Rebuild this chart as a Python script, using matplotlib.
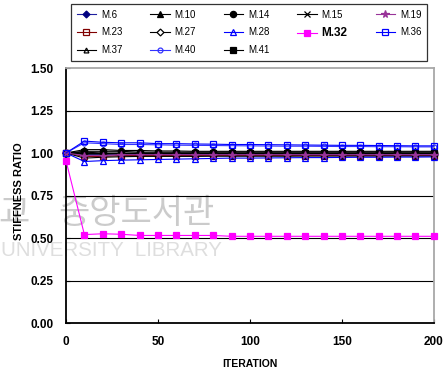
import matplotlib
matplotlib.use("Agg")
import matplotlib.pyplot as plt

plt.rcParams["font.family"] = ["Liberation Sans", "DejaVu Sans"]

# iteration steps
iterations = [0, 10, 20, 30, 40, 50, 60, 70, 80, 90, 100,
              110, 120, 130, 140, 150, 160, 170, 180, 190, 200]

m6 = [1.0, 0.99, 0.99, 0.99, 0.99, 0.99, 0.99, 0.99, 0.99, 0.99, 0.99,
      0.99, 0.99, 0.99, 0.99, 0.99, 0.99, 0.99, 0.99, 0.99, 0.99]
m10 = [1.0, 1.02, 1.02, 1.015, 1.015, 1.012, 1.012, 1.01, 1.01, 1.01, 1.01,
       1.01, 1.01, 1.01, 1.01, 1.01, 1.01, 1.01, 1.01, 1.01, 1.01]
m14 = [1.0, 1.01, 1.01, 1.01, 1.005, 1.005, 1.005, 1.005, 1.005, 1.005, 1.005,
       1.005, 1.005, 1.005, 1.005, 1.005, 1.005, 1.005, 1.005, 1.005, 1.005]
m15 = [1.0, 0.995, 0.995, 0.995, 0.995, 0.995, 0.995, 0.995, 0.995, 0.995, 0.995,
       0.995, 0.995, 0.995, 0.995, 0.995, 0.995, 0.995, 0.995, 0.995, 0.995]
m19 = [1.0, 0.985, 0.985, 0.99, 0.99, 0.99, 0.99, 0.99, 0.99, 0.99, 0.99,
       0.99, 0.99, 0.99, 0.99, 0.99, 0.99, 0.99, 0.99, 0.99, 0.99]
m23 = [1.0, 0.98, 0.98, 0.985, 0.985, 0.985, 0.985, 0.985, 0.985, 0.985, 0.985,
       0.985, 0.985, 0.985, 0.985, 0.985, 0.985, 0.985, 0.985, 0.985, 0.985]
m27 = [1.0, 1.0, 1.0, 1.0, 1.0, 1.0, 1.0, 1.0, 1.0, 1.0, 1.0,
       1.0, 1.0, 1.0, 1.0, 1.0, 1.0, 1.0, 1.0, 1.0, 1.0]
m28 = [1.0, 0.95, 0.955, 0.958, 0.96, 0.962, 0.964, 0.966, 0.968, 0.97, 0.97,
       0.971, 0.972, 0.973, 0.973, 0.974, 0.975, 0.975, 0.976, 0.976, 0.977]
m32 = [0.955, 0.52, 0.525, 0.522, 0.515, 0.515, 0.515, 0.515, 0.515, 0.51, 0.51,
       0.51, 0.51, 0.51, 0.51, 0.51, 0.51, 0.51, 0.51, 0.51, 0.51]
m36 = [1.0, 1.07, 1.063, 1.06, 1.06, 1.055, 1.055, 1.053, 1.052, 1.05, 1.05,
       1.049, 1.048, 1.047, 1.046, 1.045, 1.045, 1.044, 1.043, 1.042, 1.042]
m37 = [1.0, 0.97, 0.975, 0.978, 0.98, 0.98, 0.98, 0.98, 0.981, 0.981, 0.981,
       0.981, 0.981, 0.982, 0.982, 0.982, 0.982, 0.982, 0.982, 0.982, 0.982]
m40 = [1.0, 1.06, 1.055, 1.05, 1.05, 1.048, 1.046, 1.045, 1.044, 1.043, 1.042,
       1.041, 1.04, 1.04, 1.039, 1.038, 1.038, 1.037, 1.037, 1.036, 1.036]
m41 = [1.0, 1.005, 1.0, 1.0, 1.0, 1.0, 1.0, 1.0, 1.0, 1.0, 1.0,
       1.0, 1.0, 1.0, 1.0, 1.0, 1.0, 1.0, 1.0, 1.0, 1.0]

# name, values, line colour, marker, marker face, marker size
# (ordered so the 5-column legend reads row by row)
series = [
    ("M.6", m6, "#2020a0", "D", "#000080", 3.5),
    ("M.23", m23, "#800000", "s", "none", 4.5),
    ("M.37", m37, "black", "^", "none", 3.5),
    ("M.10", m10, "black", "^", "black", 5),
    ("M.27", m27, "black", "D", "white", 3.5),
    ("M.40", m40, "#3333ff", "o", "none", 3.5),
    ("M.14", m14, "black", "o", "black", 4.5),
    ("M.28", m28, "#0000ff", "^", "none", 4.5),
    ("M.41", m41, "black", "s", "black", 4),
    ("M.15", m15, "black", "x", "black", 4.5),
    ("M.32", m32, "#ff00ff", "s", "#ff00ff", 5),
    ("M.19", m19, "#993399", "*", "#993399", 5.5),
    ("M.36", m36, "#0000ff", "s", "none", 4),
]

fig = plt.figure(figsize=(4.45, 3.72), dpi=100)
ax = fig.add_axes([0.1483, 0.1317, 0.8267, 0.6855])
ax.set_facecolor("none")

# library watermark behind everything
wm_font = ["Noto Sans CJK KR"]
fig.text(30 / 445, 1 - 213 / 372, "교", ha="right", va="center",
         fontsize=24.5, color="#cbcbcb", family=wm_font, zorder=-1)
fig.text(215 / 445, 1 - 213 / 372, "중앙도서관", ha="right", va="center",
         fontsize=24.5, color="#cbcbcb", family=wm_font, zorder=-1)
fig.text(1 / 445, 1 - 251 / 372, "UNIVERSITY  LIBRARY", ha="left", va="center",
         fontsize=14.8, color="#dedede", zorder=-1)

for yv in [0.25, 0.5, 0.75, 1.0, 1.25]:
    ax.axhline(yv, color="black", linewidth=0.8, zorder=1)

for name, vals, col, mk, face, ms in series:
    edge = face if mk in ("x", "*") else col
    if name == "M.6":
        edge = "#000080"
    ax.plot(iterations, vals, color=col, linewidth=0.8, marker=mk,
            markersize=ms, markerfacecolor=face, markeredgecolor=edge,
            markeredgewidth=0.9, label=name, zorder=3, clip_on=False)

ax.set_xlim(0, 200)
ax.set_ylim(0, 1.5)
ax.set_xticks([0, 50, 100, 150, 200])
ax.set_yticks([0.0, 0.25, 0.5, 0.75, 1.0, 1.25, 1.5])
ax.set_yticklabels(["0.00", "0.25", "0.50", "0.75", "1.00", "1.25", "1.50"])
ax.tick_params(axis="both", direction="in", length=3, width=0.8,
               labelsize=8.5, pad=9)
for lab in ax.get_xticklabels() + ax.get_yticklabels():
    lab.set_fontweight("bold")

for side in ("left", "bottom"):
    ax.spines[side].set_color("black")
    ax.spines[side].set_linewidth(1.3)
for side in ("top", "right"):
    ax.spines[side].set_color("#a8a8a8")
    ax.spines[side].set_linewidth(1.3)

ax.set_xlabel("ITERATION", fontsize=7.5, fontweight="bold", labelpad=8)
fig.text(19 / 445, 1 - 191 / 372, "STIFFNESS RATIO", rotation=90, ha="center",
         va="center", fontsize=8, fontweight="bold")

leg = fig.legend(loc="center", ncol=5, bbox_to_anchor=(0.148, 0.839, 0.823, 0.148),
                 mode="expand", fontsize=7, frameon=True, fancybox=False,
                 edgecolor="black", handlelength=2.0, handletextpad=0.5,
                 borderpad=0.6, labelspacing=0.8, columnspacing=1.0)
leg.get_frame().set_linewidth(0.9)
for txt in leg.get_texts():
    if txt.get_text() == "M.32":
        txt.set_fontweight("bold")
        txt.set_fontsize(8.5)

fig.savefig("out.png", dpi=100)
